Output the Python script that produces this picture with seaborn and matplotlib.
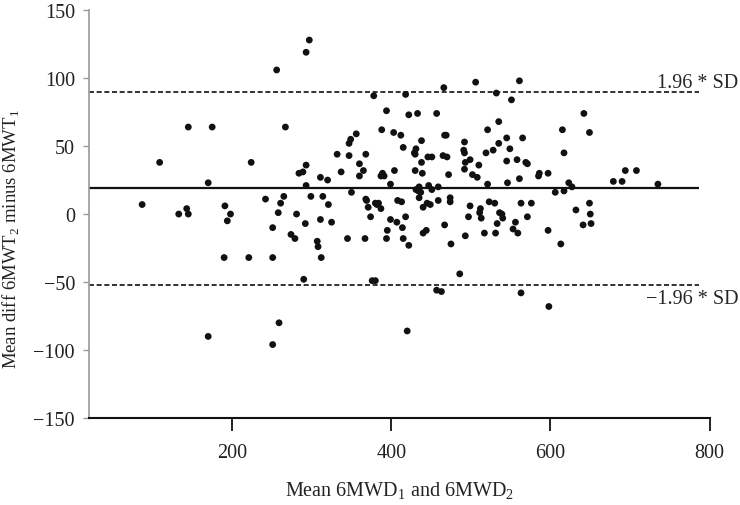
import matplotlib
matplotlib.use("Agg")
import matplotlib.pyplot as plt
import seaborn as sns
import pandas as pd

# Mean of the two walk distances (x) and their difference (y)
mean_6mwd = [
    87, 109, 133, 143, 145, 145, 170, 175, 191, 198, 224, 242, 256, 258, 261, 265,
    267, 281, 284, 289, 293, 293, 293, 297, 299, 311, 314, 320, 321, 332, 337, 347,
    347, 349, 350, 356, 360, 360, 365, 368, 368, 369, 371, 374, 378, 380, 382, 384,
    387, 388, 387, 389, 391, 394, 399, 403, 404, 408, 412, 413, 415, 418, 418, 422,
    429, 430, 430, 431, 431, 433, 434, 435, 435, 437, 438, 438, 439, 440, 445, 446,
    447, 449, 451, 451, 457, 459, 459, 466, 467, 469, 465, 470, 472, 474, 474, 491,
    492, 492, 492, 493, 497, 499, 499, 502, 506, 508, 510, 511, 512, 513, 519, 521,
    521, 523, 528, 530, 532, 535, 535, 536, 539, 540, 545, 545, 546, 549, 551, 558,
    561, 561, 563, 565, 569, 571, 571, 576, 585, 586, 597, 606, 615, 617, 617, 623,
    627, 632, 642, 649, 649, 650, 679, 690, 694, 708, 735,
    194, 251, 274, 279, 292, 307, 308, 311, 325, 312, 190, 221, 251, 290, 345, 367,
    399, 407, 395, 414, 415, 394, 422, 440, 444, 467, 475, 493, 517, 531, 533, 553,
    556, 559, 597, 613, 641, 651, 376, 380, 486, 457, 463, 563, 598, 170, 259, 251,
    420,
]
diff_6mwt = [
    7, 38, 0, 4, 0, 64, 23, 64, 6, 0, 38, 11, 106, 1, 8, 13,
    64, 0, 30, 31, 36, 21, 119, 128, 13, 27, 13, 25, 7, 44, 31, 43,
    52, 55, 16, 59, 37, 28, 32, 44, 11, 10, 5, -2, 87, 8, 7, 8,
    4, 62, 28, 30, 28, 76, 22, 60, 32, 10, 58, 9, 49, 88, -2, 73,
    45, 44, 32, 18, 48, 74, 17, 12, 20, 16, 54, 38, 30, 5, 8, 42,
    21, 7, 42, 18, 74, 10, 20, 93, 58, 58, 43, 42, 29, 12, 9, 47,
    45, 53, 33, 38, -2, 40, 6, 29, 97, 27, 36, 1, 4, -3, 45, 62,
    22, 9, 47, 8, 89, 68, 52, 1, 0, -3, 56, 39, 23, 48, 84, 40,
    26, 98, 8, 56, 38, 37, -2, 8, 28, 30, 30, 16, 62, 45, 17, 23,
    20, 3, 74, 60, 8, 0, 24, 24, 32, 32, 22,
    -5, -10, -15, -18, -7, -20, -24, -4, -6, -32, -32, -32, -32, -48, -18, -18,
    -4, -6, -12, -10, -18, -18, -23, -14, -12, -8, -22, -16, -14, -14, -7, -11,
    -6, -14, -12, -22, -8, -7, -49, -49, -44, -56, -57, -58, -68, -90, -80, -96,
    -86,
]

mean_diff = 19
upper_loa = 90
lower_loa = -52

sns.set_style("ticks")
plt.rcParams["font.family"] = ["Liberation Serif", "DejaVu Serif"]
plt.rcParams["mathtext.fontset"] = "custom"
plt.rcParams["mathtext.rm"] = "Liberation Serif"

df = pd.DataFrame({"mean_6mwd": mean_6mwd, "diff_6mwt": diff_6mwt})

fig = plt.figure(figsize=(7.4, 5.06), dpi=100)
ax = fig.add_axes([0.120, 0.172, 0.839, 0.806])

sns.scatterplot(data=df, x="mean_6mwd", y="diff_6mwt", s=24, color="#111111",
                edgecolor="none", ax=ax)

# mean difference and limits of agreement
ax.hlines(mean_diff, 20, 787, colors="#111111", lw=1.6)
ax.hlines([upper_loa, lower_loa], 20, 787, colors="#111111", lw=1.2,
          linestyles=(0, (3, 1.6)))
ax.text(836, 97, "1.96 * SD", ha="right", va="center", fontsize=14.5, clip_on=False)
ax.text(836, -62, "\u22121.96 * SD", ha="right", va="center", fontsize=14.5, clip_on=False)

ax.set_xlim(20, 800)
ax.set_ylim(-150, 150)
ax.set_xticks([200, 400, 600, 800])
ax.set_yticks(range(-150, 151, 50))

sns.despine(ax=ax)
ax.spines["left"].set_color("#9a9a9a")
ax.spines["left"].set_linewidth(1.2)
ax.spines["bottom"].set_color("#111111")
ax.spines["bottom"].set_linewidth(1.5)
ax.tick_params(axis="y", colors="#9a9a9a", length=4, width=1, pad=6,
               labelcolor="#222222", labelsize=14.5)
ax.tick_params(axis="x", color="#111111", length=9, width=1.3, pad=9,
               labelcolor="#222222", labelsize=14.5)

ax.set_xlabel("Mean 6MWD$_\\mathregular{1}$ and 6MWD$_\\mathregular{2}$", fontsize=14.5,
              labelpad=13, color="#222222")
ax.set_ylabel("Mean diff 6MWT$_\\mathregular{2}$ minus 6MWT$_\\mathregular{1}$", fontsize=13.5,
              color="#222222")
ax.yaxis.set_label_coords(-0.108, 0.442)

fig.savefig("out.png", dpi=100)
